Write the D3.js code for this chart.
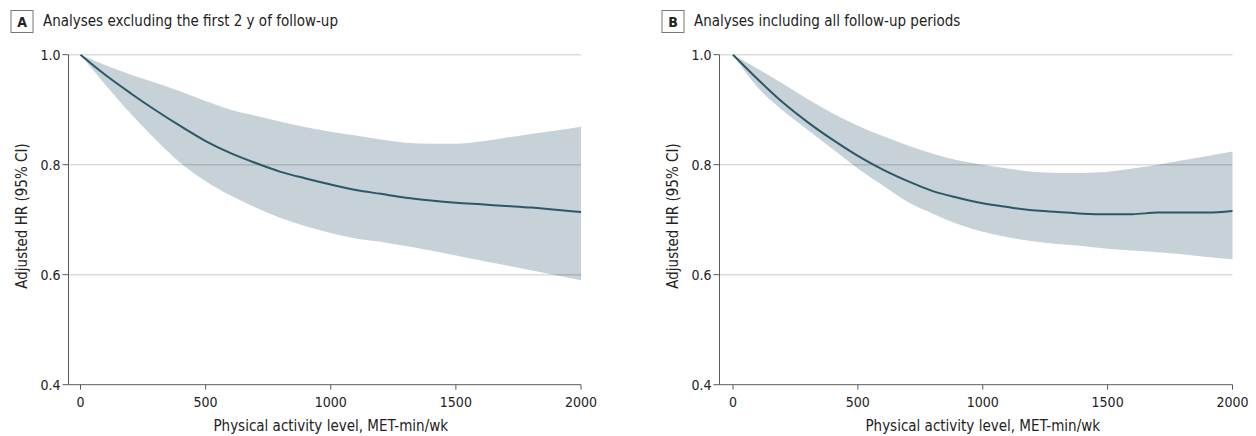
<!DOCTYPE html>
<html>
<head>
  <meta charset="utf-8">
  <script src="https://d3js.org/d3.v7.min.js"></script>
  <style>
    body { margin: 0; background: #fff; }
    svg text { font-family: "DejaVu Sans Condensed", "DejaVu Sans", sans-serif; fill: #222; }
  </style>
</head>
<body>
  <svg id="chart" width="1256" height="436"></svg>
  <script>
    // physical activity, MET-min/wk
    var metLevels = [0, 100, 200, 300, 400, 500, 600, 700, 800, 900, 1000,
      1100, 1200, 1300, 1400, 1500, 1600, 1700, 1800, 1900, 2000];

    // panel A: excluding first 2 y of follow-up
    var hrA = [1.000, 0.963, 0.930, 0.899, 0.870, 0.843, 0.821, 0.803, 0.787, 0.775, 0.764,
      0.754, 0.747, 0.740, 0.735, 0.731, 0.728, 0.725, 0.722, 0.718, 0.714];
    var upperA = [1.000, 0.981, 0.964, 0.949, 0.933, 0.916, 0.900, 0.889, 0.878, 0.868, 0.860,
      0.853, 0.846, 0.840, 0.838, 0.838, 0.842, 0.849, 0.856, 0.862, 0.869];
    var lowerA = [1.000, 0.945, 0.893, 0.846, 0.803, 0.770, 0.744, 0.722, 0.703, 0.688, 0.676,
      0.666, 0.660, 0.652, 0.644, 0.635, 0.626, 0.617, 0.608, 0.599, 0.590];

    // panel B: all follow-up periods
    var hrB = [1.000, 0.955, 0.913, 0.877, 0.845, 0.816, 0.791, 0.770, 0.752, 0.740, 0.730,
      0.723, 0.717, 0.714, 0.711, 0.710, 0.710, 0.713, 0.713, 0.713, 0.716];
    var upperB = [1.000, 0.974, 0.947, 0.919, 0.893, 0.871, 0.852, 0.835, 0.820, 0.808, 0.800,
      0.793, 0.787, 0.785, 0.785, 0.787, 0.793, 0.800, 0.808, 0.816, 0.824];
    var lowerB = [1.000, 0.940, 0.898, 0.863, 0.828, 0.793, 0.762, 0.732, 0.711, 0.692, 0.678,
      0.668, 0.661, 0.656, 0.652, 0.647, 0.644, 0.641, 0.637, 0.632, 0.628];

    var xTicks = [0, 500, 1000, 1500, 2000];
    var yTicks = [0.4, 0.6, 0.8, 1.0];
    var gridTicks = [0.6, 0.8, 1.0];

    var svg = d3.select("#chart");

    function drawPanel(p) {
      var g = svg.append("g");
      var x = d3.scaleLinear().domain([0, 2000]).range([p.x0, p.x1]);
      var y = d3.scaleLinear().domain([0.4, 1.0]).range([384.7, 54.7]);

      var rows = metLevels.map(function (m, i) {
        return { m: m, hr: p.hr[i], lo: p.lower[i], hi: p.upper[i] };
      });

      // confidence band
      g.append("path")
        .datum(rows)
        .attr("fill", "#c6d1d8")
        .attr("d", d3.area()
          .curve(d3.curveMonotoneX)
          .x(function (d) { return x(d.m); })
          .y0(function (d) { return y(d.lo); })
          .y1(function (d) { return y(d.hi); }));

      // gridlines
      g.selectAll(".grid").data(gridTicks).enter().append("line")
        .attr("x1", p.axisX).attr("x2", p.x1)
        .attr("y1", function (d) { return y(d); })
        .attr("y2", function (d) { return y(d); })
        .attr("stroke", "#000").attr("stroke-opacity", 0.14).attr("stroke-width", 1.4);

      // estimate
      g.append("path")
        .datum(rows)
        .attr("fill", "none")
        .attr("stroke", "#2b5866")
        .attr("stroke-width", 2)
        .attr("d", d3.line()
          .curve(d3.curveMonotoneX)
          .x(function (d) { return x(d.m); })
          .y(function (d) { return y(d.hr); }));

      // axes
      var axisCol = "#5a5a5a";
      g.append("line").attr("x1", p.axisX).attr("x2", p.axisX)
        .attr("y1", y(1.0)).attr("y2", y(0.4)).attr("stroke", axisCol);
      g.append("line").attr("x1", p.axisX).attr("x2", p.x1)
        .attr("y1", y(0.4)).attr("y2", y(0.4)).attr("stroke", axisCol);

      g.selectAll(".yt").data(yTicks).enter().append("line")
        .attr("x1", p.axisX - 6).attr("x2", p.axisX)
        .attr("y1", function (d) { return y(d); })
        .attr("y2", function (d) { return y(d); })
        .attr("stroke", axisCol);
      g.selectAll(".yl").data(yTicks).enter().append("text")
        .attr("x", p.axisX - 8)
        .attr("y", function (d) { return y(d) + 5; })
        .attr("text-anchor", "end")
        .style("font-size", "14px")
        .text(function (d) { return d3.format(".1f")(d); });

      g.selectAll(".xt").data(xTicks).enter().append("line")
        .attr("x1", function (d) { return x(d); })
        .attr("x2", function (d) { return x(d); })
        .attr("y1", y(0.4)).attr("y2", y(0.4) + 5)
        .attr("stroke", axisCol);
      g.selectAll(".xl").data(xTicks).enter().append("text")
        .attr("x", function (d) { return x(d); })
        .attr("y", 407)
        .attr("text-anchor", "middle")
        .style("font-size", "14px")
        .text(function (d) { return d; });

      g.append("text")
        .attr("x", (p.x0 + p.x1) / 2)
        .attr("y", 431)
        .attr("text-anchor", "middle")
        .style("font-size", "15px")
        .text("Physical activity level, MET-min/wk");

      g.append("text")
        .attr("transform", "translate(" + (p.axisX - 42) + "," + 216 + ") rotate(-90)")
        .attr("text-anchor", "middle")
        .style("font-size", "15px")
        .text("Adjusted HR (95% CI)");

      // panel letter + title
      g.append("rect")
        .attr("x", p.boxX).attr("y", 10.5).attr("width", 22).attr("height", 22)
        .attr("fill", "#fff").attr("stroke", "#777");
      g.append("text")
        .attr("x", p.boxX + 11).attr("y", 26.5)
        .attr("text-anchor", "middle")
        .style("font-size", "14px").style("font-weight", "bold")
        .text(p.letter);
      g.append("text")
        .attr("x", p.boxX + 32).attr("y", 26)
        .style("font-size", "15px")
        .text(p.title);
    }

    drawPanel({
      letter: "A", title: "Analyses excluding the first 2 y of follow-up",
      boxX: 11, axisX: 68.5, x0: 80.5, x1: 581,
      hr: hrA, lower: lowerA, upper: upperA
    });
    drawPanel({
      letter: "B", title: "Analyses including all follow-up periods",
      boxX: 662, axisX: 719.5, x0: 733, x1: 1232.5,
      hr: hrB, lower: lowerB, upper: upperB
    });
  </script>
</body>
</html>
